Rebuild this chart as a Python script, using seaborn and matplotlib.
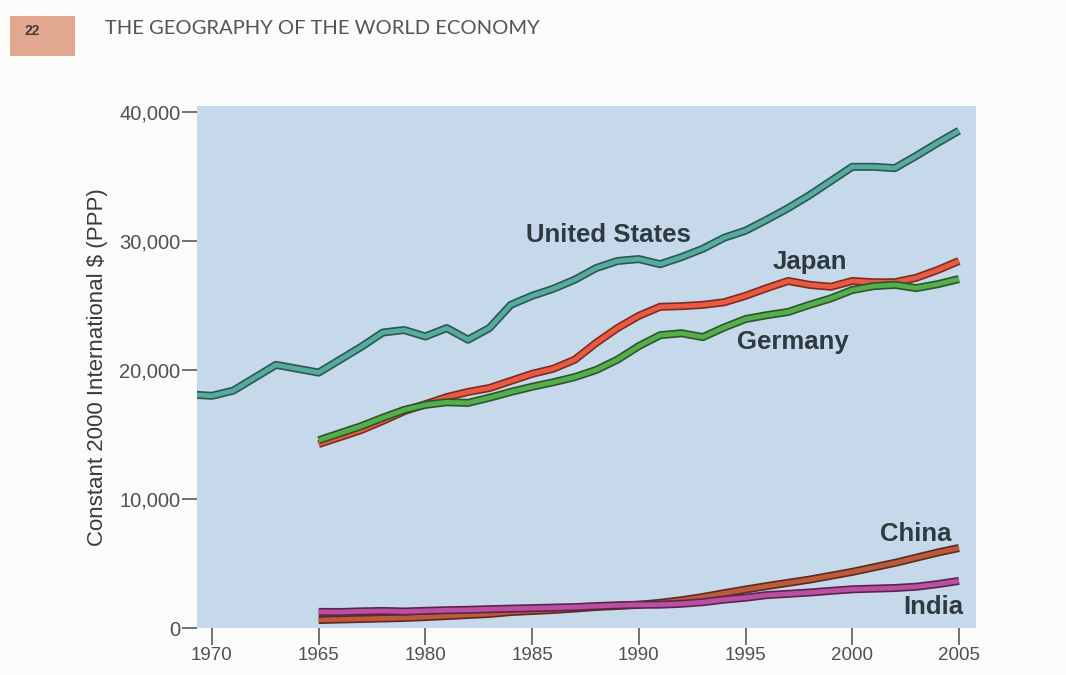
import numpy as np
import pandas as pd
import matplotlib
matplotlib.use("Agg")
import matplotlib.pyplot as plt
import matplotlib.patheffects as pe
from matplotlib.patches import Rectangle
import seaborn as sns

# ---------------- data ----------------
us_years = list(range(1969, 2006))
us_values = [18100, 18000, 18400, 19400, 20400, 20100, 19800, 20800, 21800, 22900,
             23100, 22600, 23250, 22350, 23250, 25050, 25750, 26300, 27000, 27900,
             28450, 28600, 28200, 28750, 29400, 30250, 30800, 31650, 32550, 33550,
             34650, 35750, 35750, 35650, 36600, 37600, 38550]

other_years = list(range(1975, 2006))
japan_values = [14260, 14800, 15350, 16050, 16800, 17350, 17900, 18300, 18600, 19150,
                19700, 20100, 20800, 22100, 23250, 24200, 24900, 24950, 25050, 25250,
                25750, 26350, 26900, 26600, 26450, 26900, 26800, 26800, 27150, 27750,
                28450]
germany_values = [14550, 15100, 15650, 16300, 16900, 17300, 17500, 17450, 17850, 18300,
                  18700, 19050, 19450, 20000, 20800, 21850, 22700, 22850, 22550, 23300,
                  23950, 24250, 24500, 25050, 25550, 26200, 26500, 26600, 26350, 26650,
                  27050]
china_values = [620, 660, 700, 740, 780, 850, 930, 1010, 1090, 1240,
                1320, 1400, 1510, 1630, 1710, 1800, 1950, 2150, 2400, 2700,
                2980, 3250, 3500, 3750, 4050, 4350, 4700, 5050, 5450, 5850, 6200]
india_values = [1250, 1240, 1290, 1320, 1280, 1330, 1380, 1410, 1460, 1500,
                1540, 1580, 1620, 1700, 1760, 1800, 1810, 1880, 2000, 2200,
                2350, 2550, 2650, 2750, 2880, 3000, 3050, 3100, 3200, 3400, 3650]

countries = ["United States", "Japan", "Germany", "China", "India"]
x_ticks = [1970, 1975, 1980, 1985, 1990, 1995, 2000, 2005]
x_tick_labels = ["1970", "1965", "1980", "1985", "1990", "1995", "2000", "2005"]
y_ticks = [0, 10000, 20000, 30000, 40000]
y_tick_labels = ["0", "10,000", "20,000", "30,000", "40,000"]

frames = [pd.DataFrame({"year": us_years, "value": us_values, "country": "United States"})]
for name, vals in [("Japan", japan_values), ("Germany", germany_values),
                   ("China", china_values), ("India", india_values)]:
    frames.append(pd.DataFrame({"year": other_years, "value": vals, "country": name}))
df = pd.concat(frames, ignore_index=True)

fill_colors = {"United States": "#55ab9e", "Japan": "#ea5a43", "Germany": "#55ae4c",
               "China": "#bb5a3c", "India": "#bb50a2"}
edge_colors = {"United States": "#2c5650", "Japan": "#7d2c22", "Germany": "#2c5529",
               "China": "#5e2a1e", "India": "#5a2450"}

# ---------------- figure ----------------
sns.set_theme(style="white")
plt.rcParams["font.family"] = ["Liberation Sans", "DejaVu Sans"]

fig = plt.figure(figsize=(10.66, 6.75), dpi=100, facecolor="#fbfbfa")
ax = fig.add_axes([197 / 1066, 1 - 628 / 675, (976 - 197) / 1066, (628 - 106) / 675])
ax.set_facecolor("#c6d9ea")

sns.lineplot(data=df, x="year", y="value", hue="country", hue_order=countries,
             palette=fill_colors, linewidth=3.4, legend=False, ax=ax, sort=False)

for line, name in zip(ax.lines, countries):
    line.set_path_effects([pe.Stroke(linewidth=5.8, foreground=edge_colors[name]),
                           pe.Normal()])
    line.set_solid_capstyle("butt")

ax.set_xlim(1969.3, 2005.8)
ax.set_ylim(0, 40465)
ax.set_xticks(x_ticks)
ax.set_xticklabels(x_tick_labels)
ax.set_yticks(y_ticks)
ax.set_yticklabels(y_tick_labels)
for s in ax.spines.values():
    s.set_visible(False)

ax.tick_params(axis="y", which="both", left=True, length=11, width=1.2,
               color="#5a5a5a", labelsize=14.5, labelcolor="#505050", pad=1)
ax.tick_params(axis="x", which="both", bottom=True, length=12, width=1.2,
               color="#5a5a5a", labelsize=13.5, labelcolor="#505050", pad=2)
ax.set_xlabel("")
ax.set_ylabel("Constant 2000 International $ (PPP)", fontsize=16, color="#3a3a3a",
              labelpad=8)
ax.grid(False)

label_color = "#2f3940"
for txt, x, y in [("United States", 1988.6, 30500), ("Japan", 1998.0, 28400),
                  ("Germany", 1997.2, 22150), ("China", 2003.0, 7300),
                  ("India", 2003.8, 1650)]:
    ax.text(x, y, txt, fontsize=18.5, fontweight="bold", color=label_color,
            ha="center", va="center")

# page header
fig.patches.append(Rectangle((10 / 1066, 1 - 56 / 675), 65 / 1066, 40 / 675,
                             transform=fig.transFigure, facecolor="#e2a88f",
                             edgecolor="none"))
fig.text(32 / 1066, 1 - 31 / 675, "22", fontsize=10, fontweight="bold",
         color="#4a3a36", ha="center", va="center")
fig.text(105 / 1066, 1 - 29 / 675, "THE GEOGRAPHY OF THE WORLD ECONOMY",
         fontsize=14.5, color="#555555", ha="left", va="center",
         family=["Lato", "DejaVu Sans"])

fig.savefig("out.png", dpi=100, facecolor=fig.get_facecolor())
